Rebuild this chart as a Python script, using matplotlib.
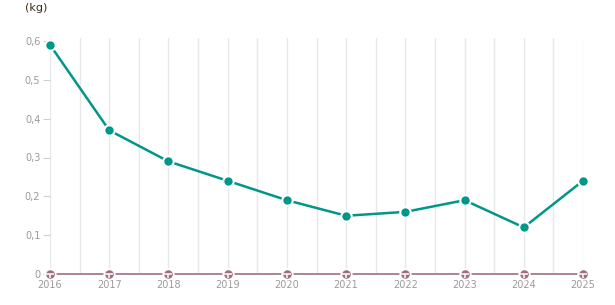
import matplotlib
matplotlib.use("Agg")
import matplotlib.pyplot as plt
from matplotlib.path import Path
import numpy as np

years = [2016, 2017, 2018, 2019, 2020, 2021, 2022, 2023, 2024, 2025]
series_a = [0.59, 0.37, 0.29, 0.24, 0.19, 0.15, 0.16, 0.19, 0.12, 0.24]
series_b = [0, 0, 0, 0, 0, 0, 0, 0, 0, 0]
y_ticks = [0, 0.1, 0.2, 0.3, 0.4, 0.5, 0.6]
y_labels = ["0", "0,1", "0,2", "0,3", "0,4", "0,5", "0,6"]
unit = "(kg)"

fig = plt.figure(figsize=(6.15, 3.05), dpi=100)
ax = fig.add_axes([50/615, 1-274/305, (583-50)/615, (274-38)/305])
ax.set_xlim(years[0], years[-1])
ax.set_ylim(0, 0.6 * (274-38)/(274-41))

# vertical gridlines at years and midpoints
for x in np.arange(years[0], years[-1] + 0.01, 0.5):
    ax.axvline(x, color="#e8e8e8", lw=1, zorder=0)

ax.plot(years, series_a, color="#009688", lw=1.8, marker="o", ms=7.5,
        mfc="#009688", mec="white", mew=1.5, zorder=3, clip_on=False)
ax.plot(years, series_b, color="#a0707f", lw=1.2, marker="o", ms=7.5,
        mfc="#a0707f", mec="white", mew=1.3, zorder=3, clip_on=False)
tee = Path([(-1, 0), (1, 0), (0, 0), (0, -1)],
           [Path.MOVETO, Path.LINETO, Path.MOVETO, Path.LINETO])
ax.plot(years, series_b, ls="none", marker=tee, ms=5.5, mec="white", mew=1.1,
        zorder=4, clip_on=False)

for s in ax.spines.values():
    s.set_visible(False)
ax.set_yticks(y_ticks)
ax.set_yticklabels(y_labels)
ax.set_xticks(years)
ax.set_xticklabels([str(y) for y in years])
ax.tick_params(axis="y", length=5, color="#d0d0d0", labelcolor="#9a9a9a",
               labelsize=7, pad=2)
ax.tick_params(axis="x", length=0, labelcolor="#9a9a9a", labelsize=7, pad=4)

fig.text(25/615, 1-8/305, unit, fontsize=8, color="#3a2a1a", va="center", ha="left")

fig.savefig("out.png", dpi=100)
